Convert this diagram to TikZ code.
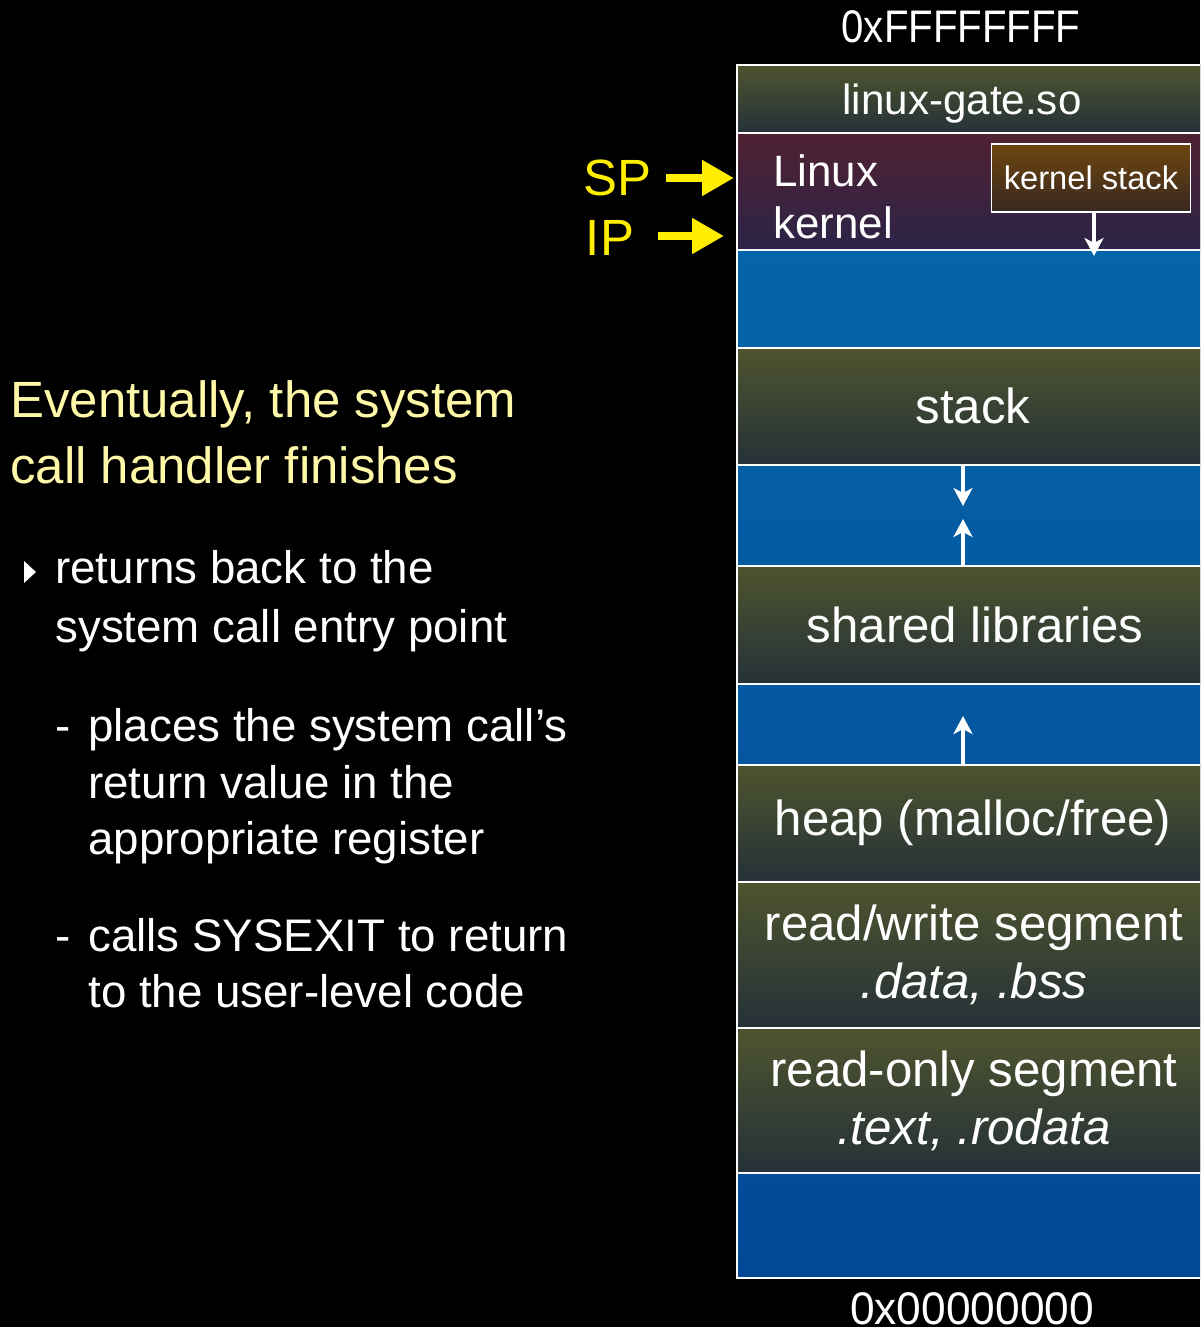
\documentclass[tikz,border=0pt]{standalone}
\usepackage{fontspec}
\setmainfont{Liberation Sans}
\usetikzlibrary{positioning, arrows.meta}
\definecolor{SegOlive}{RGB}{78,84,46}
\definecolor{SegSlate}{RGB}{37,49,56}
\definecolor{KernTop}{RGB}{80,33,50}
\definecolor{KernBot}{RGB}{44,36,72}
\definecolor{KStackTop}{RGB}{110,70,14}
\definecolor{KStackBot}{RGB}{56,40,32}
\definecolor{GapTop}{RGB}{6,106,172}
\definecolor{GapBot}{RGB}{2,72,150}
\definecolor{NoteYellow}{RGB}{255,248,168}
\definecolor{PtrYellow}{RGB}{255,238,0}
\tikzset{
  seg/.style={draw=white, line width=0.8pt, top color=SegOlive, bottom color=SegSlate},
  kern/.style={seg, top color=KernTop, bottom color=KernBot},
  gap/.style={draw=white, line width=0.8pt, top color=GapTop, bottom color=GapBot},
  seglbl/.style={text=white, align=center, inner sep=0pt, font=\fontsize{28}{33}\selectfont},
  kstack/.style={draw=white, line width=0.8pt, top color=KStackTop, bottom color=KStackBot,
    minimum width=3.98cm, minimum height=1.36cm, inner sep=0pt, text=white,
    font=\fontsize{18.6}{22}\selectfont},
  addr/.style={text=white, inner sep=0pt, font=\fontsize{26}{31}\selectfont},
  note/.style={anchor=base west, inner sep=0pt, text=white, font=\fontsize{26}{31}\selectfont},
  headline/.style={note, text=NoteYellow, font=\fontsize{29}{34}\selectfont},
  growarrow/.style={-{Stealth[length=0.36cm, width=0.38cm, inset=0.1cm]}, white, line width=2pt},
  ptr/.style={-{Triangle[length=0.64cm, width=0.68cm]}, PtrYellow, line width=5pt},
  reg/.style={text=PtrYellow, inner sep=0pt, font=\fontsize{29}{34}\selectfont},
}
\begin{document}
\begin{tikzpicture}[x=0.02cm, y=0.02cm]
  \useasboundingbox (0,0) rectangle (1200,-1327);
  \fill[black] (0,0) rectangle (1200,-1327);
  \clip (0,0) rectangle (1200,-1327);
  % address space column
  \path[gap] (737,-65) rectangle (1215,-1278);
  \path[seg] (737,-65) rectangle (1215,-133);
  \path[kern] (737,-133) rectangle (1215,-250);
  \path[seg] (737,-348) rectangle (1215,-465);
  \path[seg] (737,-566) rectangle (1215,-684);
  \path[seg] (737,-765) rectangle (1215,-882);
  \path[seg] (737,-882) rectangle (1215,-1028);
  \path[seg] (737,-1028) rectangle (1215,-1173);
  \node[addr] (hiaddr) at (961,-27) {\scalebox{0.88}[1]{0xFFFFFFFF}};
  \node[addr] (loaddr) at (972,-1309) {\scalebox{0.97}[1]{0x00000000}};
  \node[seglbl, font=\fontsize{24}{29}\selectfont] (gate) at (962,-104) {linux-gate.so};
  \node[anchor=north west, inner sep=0pt, align=left, text=white,
    font=\fontsize{25}{30}\selectfont] (kernel) at (773,-154) {Linux\\kernel};
  \node[kstack] (kstk) at (1091,-178) {kernel stack};
  \node[seglbl] (stack) at (973,-406) {stack};
  \node[seglbl] (shlib) at (975,-625) {shared libraries};
  \node[seglbl] (heap) at (973,-823) {heap (malloc/free)};
  \node[seglbl] (rw) at (974,-955) {read/write segment\\\textit{.data, .bss}};
  \node[seglbl] (ro) at (974,-1101) {read-only segment\\\textit{.text, .rodata}};
  % growth arrows
  \coordinate (kgrow) at (1094,-256);
  \coordinate (stackbot) at (963,-466);
  \coordinate (stackgrow) at (963,-506);
  \coordinate (shlibtop) at (963,-566);
  \coordinate (shlibgrow) at (963,-519);
  \coordinate (heaptop) at (963,-765);
  \coordinate (heapgrow) at (963,-716);
  \draw[growarrow] (kstk.south -| kgrow) -- (kgrow);
  \draw[growarrow] (stackbot) -- (stackgrow);
  \draw[growarrow] (shlibtop) -- (shlibgrow);
  \draw[growarrow] (heaptop) -- (heapgrow);
  % registers
  \node[reg] (sp) at (617,-178) {SP};
  \node[reg] (ip) at (610,-238) {IP};
  \coordinate (spend) at (734,-178);
  \coordinate (ipend) at (724,-236);
  \draw[ptr, shorten <=0.3cm] (sp.east) -- (spend);
  \draw[ptr, shorten <=0.48cm] (ip.east |- ipend) -- (ipend);
  % slide text
  \node[headline] (head1) at (10,-418) {Eventually, the system};
  \node[headline] (head2) at (10,-483) {call handler finishes};
  \fill[white] (24,-561) -- (36,-572) -- (24,-583) -- cycle;
  \node[note] (ret1) at (55,-583) {returns back to the};
  \node[note] (ret2) at (55,-642) {system call entry point};
  \node[note] (dash1) at (55,-741) {-};
  \node[note] (val1) at (88,-741) {places the system call’s};
  \node[note] (val2) at (88,-798) {return value in the};
  \node[note] (val3) at (88,-854) {appropriate register};
  \node[note] (dash2) at (55,-951) {-};
  \node[note] (exit1) at (88,-951) {calls SYSEXIT to return};
  \node[note] (exit2) at (88,-1007) {to the user-level code};
\end{tikzpicture}
\end{document}
